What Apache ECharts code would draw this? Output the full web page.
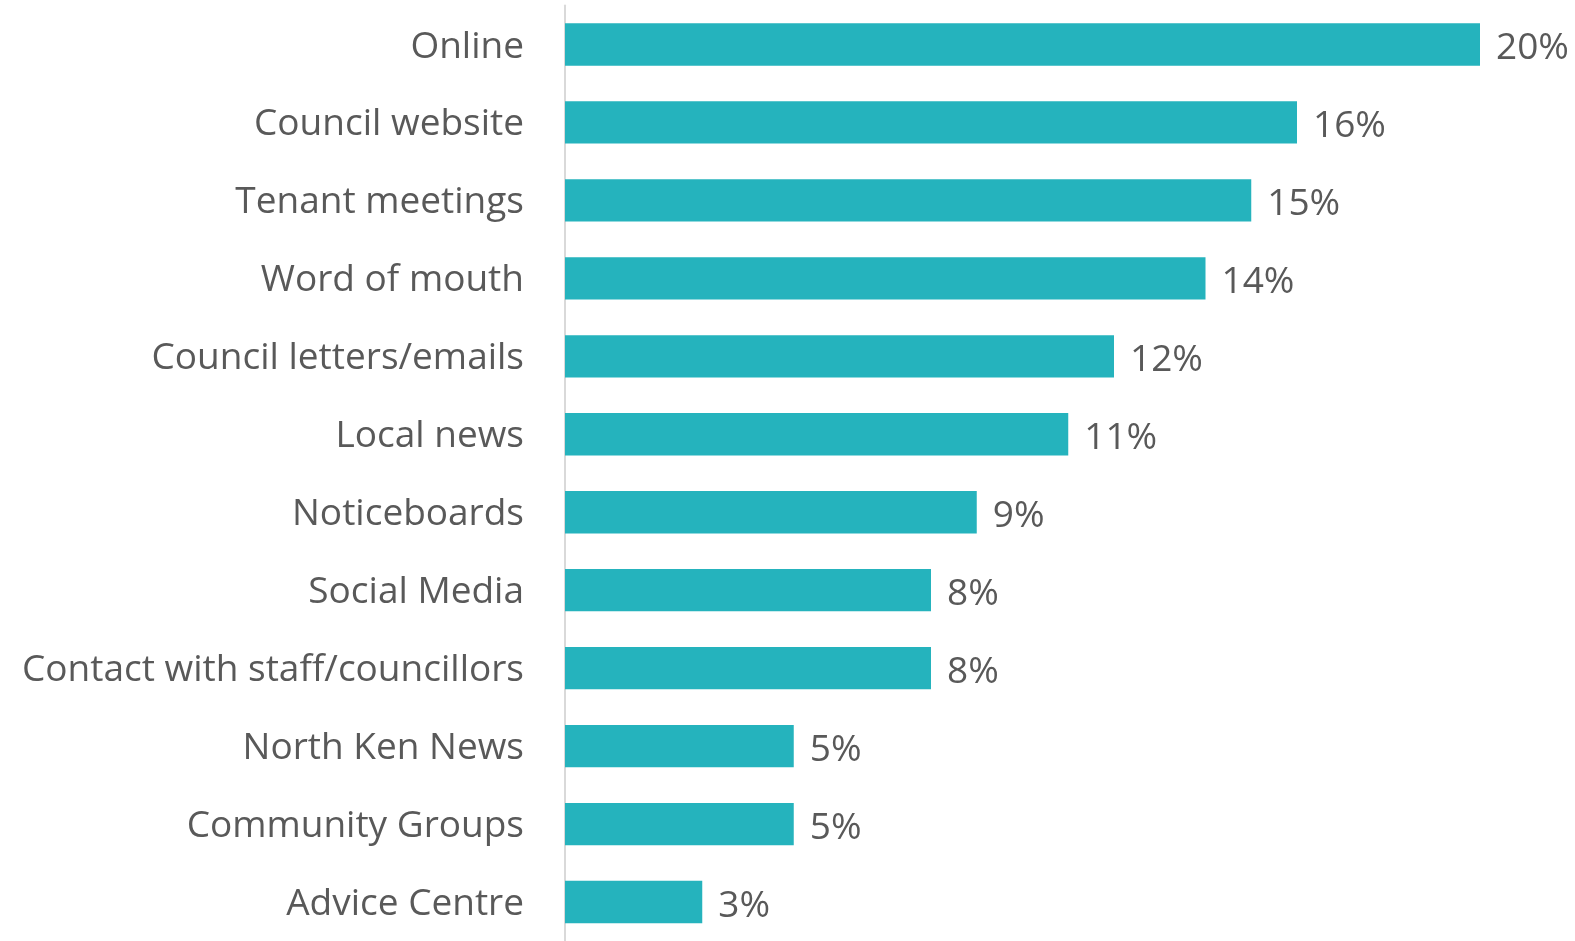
<!DOCTYPE html>
<html>
<head>
<meta charset="utf-8">
<script src="https://cdn.jsdelivr.net/npm/echarts@6/dist/echarts.min.js"></script>
<style>
  html, body { margin: 0; padding: 0; background: #ffffff; }
  #chart { width: 1575px; height: 941px; }
</style>
</head>
<body>
<div id="chart"></div>
<script>
// Sources of information, top to bottom
const categories = [
  'Online',
  'Council website',
  'Tenant meetings',
  'Word of mouth',
  'Council letters/emails',
  'Local news',
  'Noticeboards',
  'Social Media',
  'Contact with staff/councillors',
  'North Ken News',
  'Community Groups',
  'Advice Centre'
];
// Share of responses (%)
const shares = [20, 16, 15, 14, 12, 11, 9, 8, 8, 5, 5, 3];

const labelFont = '"Open Sans", Lato, sans-serif';

const chart = echarts.init(document.getElementById('chart'), null, { renderer: 'canvas' });
chart.setOption({
  animation: false,
  backgroundColor: '#ffffff',
  grid: { left: 565, right: 95, top: 5.5, bottom: -4.5, containLabel: false },
  xAxis: {
    type: 'value',
    min: 0,
    max: 20,
    show: false
  },
  yAxis: {
    type: 'category',
    data: categories,
    inverse: true,
    axisLine: { show: true, lineStyle: { color: '#D9D9D9', width: 2 } },
    axisTick: { show: false },
    axisLabel: {
      color: '#595959',
      fontFamily: labelFont,
      fontSize: 37,
      margin: 41,
      formatter: v => '{c|' + v + '}',
      rich: {
        c: {
          color: '#595959',
          fontFamily: labelFont,
          fontSize: 37,
          padding: [5, 0, 0, 0]
        }
      }
    }
  },
  series: [{
    type: 'bar',
    data: shares,
    barCategoryGap: '45.7%',
    itemStyle: { color: '#25B3BD' },
    label: {
      show: true,
      position: 'right',
      distance: 16,
      offset: [0, 4],
      color: '#595959',
      fontFamily: labelFont,
      fontSize: 37,
      formatter: p => p.value + '%'
    }
  }]
});
</script>
</body>
</html>
